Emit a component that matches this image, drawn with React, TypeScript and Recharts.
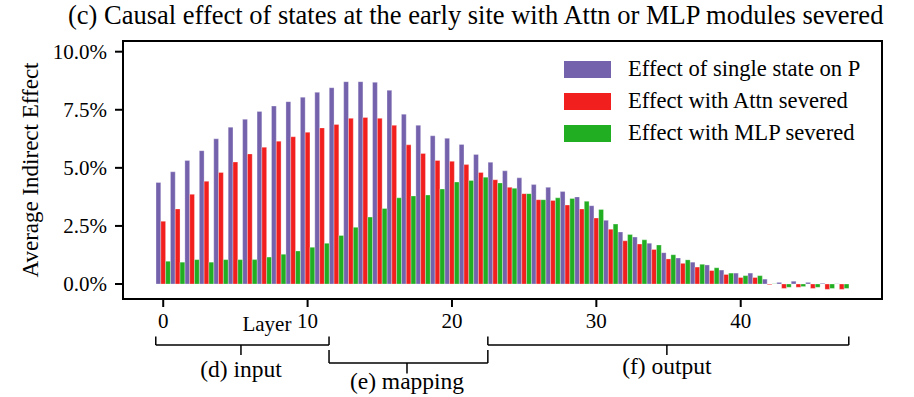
import { BarChart, Bar, XAxis, YAxis, ReferenceArea, ReferenceLine, ReferenceDot, Legend } from 'recharts';

const FONT = '"Liberation Serif", "Times New Roman", serif';

// layer index 0..47
const LAYERS = [
  0, 1, 2, 3, 4, 5, 6, 7, 8, 9, 10, 11, 12, 13, 14, 15, 16, 17, 18, 19, 20, 21, 22, 23,
  24, 25, 26, 27, 28, 29, 30, 31, 32, 33, 34, 35, 36, 37, 38, 39, 40, 41, 42, 43, 44, 45, 46, 47,
];

// values in percent
const SINGLE_STATE = [
  4.37, 4.83, 5.32, 5.74, 6.25, 6.75, 7.09, 7.43, 7.66, 7.85, 8.04, 8.25, 8.45, 8.71, 8.71, 8.68,
  8.34, 7.31, 6.83, 6.38, 6.27, 6.01, 5.58, 5.24, 4.87, 4.57, 4.28, 4.16, 3.98, 3.75, 3.37, 2.74,
  2.24, 2.02, 1.76, 1.35, 1.12, 0.94, 0.82, 0.6, 0.47, 0.47, 0.21, 0.07, 0.12, 0.07, 0.03, 0.01,
];
const ATTN_SEVERED = [
  2.7, 3.23, 3.86, 4.42, 4.8, 5.25, 5.6, 5.89, 6.15, 6.34, 6.53, 6.72, 6.87, 7.13, 7.17, 7.13,
  6.83, 5.99, 5.62, 5.32, 5.28, 5.14, 4.8, 4.49, 4.16, 3.89, 3.63, 3.6, 3.4, 3.23, 2.84, 2.36,
  1.86, 1.72, 1.49, 1.08, 0.89, 0.73, 0.58, 0.41, 0.28, 0.28, -0.03, -0.19, -0.14, -0.19, -0.23, -0.23,
];
const MLP_SEVERED = [
  0.98, 0.94, 1.05, 0.94, 1.05, 1.05, 1.05, 1.16, 1.28, 1.42, 1.58, 1.75, 2.09, 2.44, 2.88, 3.25,
  3.71, 3.79, 3.83, 4.09, 4.39, 4.46, 4.6, 4.35, 4.12, 3.89, 3.63, 3.71, 3.68, 3.56, 3.21, 2.58,
  2.13, 1.9, 1.68, 1.26, 1.04, 0.85, 0.7, 0.47, 0.36, 0.36, 0.01, -0.14, -0.11, -0.14, -0.19, -0.19,
];

const Y_TICKS = [0, 2.5, 5, 7.5, 10];

const SERIES = [
  { key: 'single', name: 'Effect of single state on P', color: '#7462ad' },
  { key: 'attn', name: 'Effect with Attn severed', color: '#f21f1f' },
  { key: 'mlp', name: 'Effect with MLP severed', color: '#22ae22' },
];

// axis limits (layer units / percent)
const X_MIN = -2.77;
const X_MAX = 49.8;
const Y_MIN = -0.645;
const Y_MAX = 10.46;

// stage brackets under the axis
const BRACES = [
  { label: '(d) input', from: -0.5, to: 11.5, mid: 5.4, top: -2.26, base: -2.63, tip: -3.06, textY: -3.66 },
  { label: '(e) mapping', from: 11.5, to: 22.5, mid: 16.9, top: -2.84, base: -3.4, tip: -3.85, textY: -4.18 },
  { label: '(f) output', from: 22.5, to: 47.5, mid: 34.9, top: -2.26, base: -2.63, tip: -3.06, textY: -3.53 },
];

const data = LAYERS.map((layer, i) => ({
  layer,
  single: SINGLE_STATE[i],
  attn: ATTN_SEVERED[i],
  mlp: MLP_SEVERED[i],
}));

function LegendBox() {
  return (
    <div style={{ fontFamily: FONT, fontSize: 22.6, color: '#000' }}>
      {SERIES.map((s) => (
        <div key={s.key} style={{ display: 'flex', alignItems: 'center', height: 32 }}>
          <div style={{ width: 47, height: 17, background: s.color, marginRight: 17 }} />
          <span style={{ whiteSpace: 'nowrap' }}>{s.name}</span>
        </div>
      ))}
    </div>
  );
}

export default function App() {
  const axisLine = { stroke: '#000', strokeWidth: 2 };
  const tick = { fill: '#000', fontSize: 21, fontFamily: FONT };
  const braceLine = { stroke: '#000', strokeWidth: 1.5, ifOverflow: 'visible' as const, xAxisId: 'n' };

  return (
    <div style={{ position: 'absolute', left: 0, top: 0, width: 914, height: 397, background: '#fff', fontFamily: FONT }}>
      <div style={{ position: 'absolute', left: 68, top: 0, fontSize: 26.5, whiteSpace: 'nowrap', color: '#000', zIndex: 2 }}>
        (c) Causal effect of states at the early site with Attn or MLP modules severed
      </div>
      <BarChart
        width={914}
        height={397}
        data={data}
        margin={{ top: 41, right: 32, bottom: 68, left: 63 }}
        barGap={0}
      >
        <XAxis
          dataKey="layer"
          interval={9}
          height={30}
          padding={{ left: 33, right: 33 }}
          axisLine={axisLine}
          tickLine={axisLine}
          tickSize={8}
          tickMargin={6}
          tick={tick}
        />
        <XAxis xAxisId="n" dataKey="layer" type="number" domain={[X_MIN, X_MAX]} allowDataOverflow hide />
        <YAxis
          domain={[Y_MIN, Y_MAX]}
          allowDataOverflow
          ticks={Y_TICKS}
          tickFormatter={(v: number) => `${v.toFixed(1)}%`}
          width={60}
          axisLine={axisLine}
          tickLine={axisLine}
          tickSize={8}
          tickMargin={8}
          tick={tick}
          label={{
            value: 'Average Indirect Effect',
            angle: -90,
            position: 'insideLeft',
            offset: -33,
            style: { textAnchor: 'middle', fontSize: 23, fill: '#000', fontFamily: FONT },
          }}
        />
        {SERIES.map((s) => (
          <Bar
            key={s.key}
            dataKey={s.key}
            name={s.name}
            fill={s.color}
            barSize={4.8}
            stroke="#ffffff"
            strokeOpacity={0.5}
            strokeWidth={0.6}
            isAnimationActive={false}
          />
        ))}
        <ReferenceArea
          xAxisId="n"
          x1={X_MIN}
          x2={X_MAX}
          y1={Y_MIN}
          y2={Y_MAX}
          fill="none"
          stroke="#000"
          strokeWidth={2}
          ifOverflow="visible"
        />
        <ReferenceDot
          xAxisId="n"
          x={7.2}
          y={-1.68}
          r={0}
          fill="none"
          stroke="none"
          ifOverflow="visible"
          label={{ value: 'Layer', position: 'center', fill: '#000', fontSize: 21, fontFamily: FONT }}
        />
        {BRACES.map((b) => [
          <ReferenceLine key={`${b.label}-l`} {...braceLine} segment={[{ x: b.from, y: b.top }, { x: b.from, y: b.base }]} />,
          <ReferenceLine key={`${b.label}-r`} {...braceLine} segment={[{ x: b.to, y: b.top }, { x: b.to, y: b.base }]} />,
          <ReferenceLine key={`${b.label}-h`} {...braceLine} segment={[{ x: b.from, y: b.base }, { x: b.to, y: b.base }]} />,
          <ReferenceLine key={`${b.label}-m`} {...braceLine} segment={[{ x: b.mid, y: b.base }, { x: b.mid, y: b.tip }]} />,
          <ReferenceDot
            key={`${b.label}-t`}
            xAxisId="n"
            x={b.mid}
            y={b.textY}
            r={0}
            fill="none"
            stroke="none"
            ifOverflow="visible"
            label={{ value: b.label, position: 'center', fill: '#000', fontSize: 23.5, fontFamily: FONT }}
          />,
        ])}
        <Legend
          layout="vertical"
          align="center"
          verticalAlign="middle"
          content={() => <LegendBox />}
          wrapperStyle={{ position: 'absolute', left: 564, top: 53, width: 330 }}
        />
      </BarChart>
    </div>
  );
}
